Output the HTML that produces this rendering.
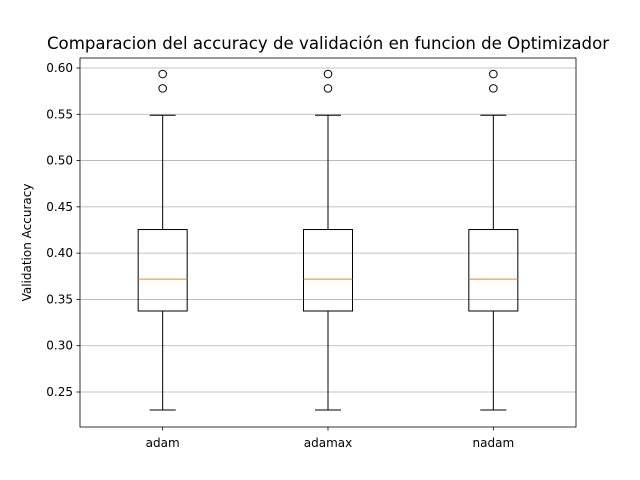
<!DOCTYPE html>
<html><head><meta charset="utf-8"><style>
html,body{margin:0;padding:0;background:#fff;}
svg{display:block;font-family:"DejaVu Sans","Liberation Sans",sans-serif;}
</style></head><body>
<svg id="chart" width="640" height="480">
<text x="328" y="49" font-size="16.6" text-anchor="middle">Comparacion del accuracy de validación en funcion de Optimizador</text>
<text transform="translate(31,242.5) rotate(-90)" font-size="12" text-anchor="middle">Validation Accuracy</text>
<g id="grid"></g><g id="marks"></g><g id="axes"></g>
</svg>
<script>
const categories = ["adam","adamax","nadam"];
const whiskerLow = [0.2306,0.2306,0.2306];
const q1 = [0.3375,0.3375,0.3375];
const median = [0.372,0.372,0.372];
const q3 = [0.4255,0.4255,0.4255];
const whiskerHigh = [0.549,0.549,0.549];
const outliers = [[0.5935,0.578],[0.5935,0.578],[0.5935,0.578]];
const yTicks = [0.25,0.30,0.35,0.40,0.45,0.50,0.55,0.60];

const L=80,R=576,T=58,B=427,yMin=0.2122,yMax=0.6108;
const ns="http://www.w3.org/2000/svg";
function y(v){return B-(v-yMin)/(yMax-yMin)*(B-T);}
function x(i){return L+(R-L)*(i+0.5)/categories.length;}
function mk(tag,attrs,parent){const e=document.createElementNS(ns,tag);for(const k in attrs)e.setAttribute(k,attrs[k]);parent.appendChild(e);return e;}
const grid=document.getElementById('grid'),marks=document.getElementById('marks'),axes=document.getElementById('axes');
yTicks.forEach(t=>{
  const yy=y(t);
  const g=mk('line',{x1:L,x2:R,y1:yy,y2:yy,stroke:'#b0b0b0','stroke-width':0.8},grid);
  
  
  mk('line',{x1:L-3.5,x2:L,y1:yy,y2:yy,stroke:'#000','stroke-width':0.8},axes);
  const tx=mk('text',{x:L-7,y:yy+4,'font-size':12,'text-anchor':'end'},axes);
  tx.textContent=t.toFixed(2);
  
  
});
const bw=49,cw=26;
categories.forEach((c,i)=>{
  const cx=x(i);
  const g=mk('g',{},marks);
  
  
  mk('line',{x1:cx,x2:cx,y1:y(whiskerLow[i]),y2:y(q1[i]),stroke:'#000'},g);
  mk('line',{x1:cx,x2:cx,y1:y(q3[i]),y2:y(whiskerHigh[i]),stroke:'#000'},g);
  mk('line',{x1:cx-cw/2,x2:cx+cw/2,y1:y(whiskerLow[i]),y2:y(whiskerLow[i]),stroke:'#000'},g);
  mk('line',{x1:cx-cw/2,x2:cx+cw/2,y1:y(whiskerHigh[i]),y2:y(whiskerHigh[i]),stroke:'#000'},g);
  mk('rect',{x:cx-bw/2,y:y(q3[i]),width:bw,height:y(q1[i])-y(q3[i]),fill:'none',stroke:'#000'},g);
  mk('line',{x1:cx-bw/2,x2:cx+bw/2,y1:y(median[i]),y2:y(median[i]),stroke:'#ff7f0e'},g);
  outliers[i].forEach(o=>{
    const ci=mk('circle',{cx:cx,cy:y(o),r:3.8,fill:'none',stroke:'#000'},g);
    
    
  });
  mk('line',{x1:cx,x2:cx,y1:B,y2:B+3.5,stroke:'#000','stroke-width':0.8},axes);
  const tx=mk('text',{x:cx,y:B+20,'font-size':12,'text-anchor':'middle'},axes);
  tx.textContent=c;
  
  
});
const fr=mk('rect',{x:L,y:T,width:R-L,height:B-T,fill:'none',stroke:'#000','stroke-width':0.8},axes);


</script>
</body></html>
